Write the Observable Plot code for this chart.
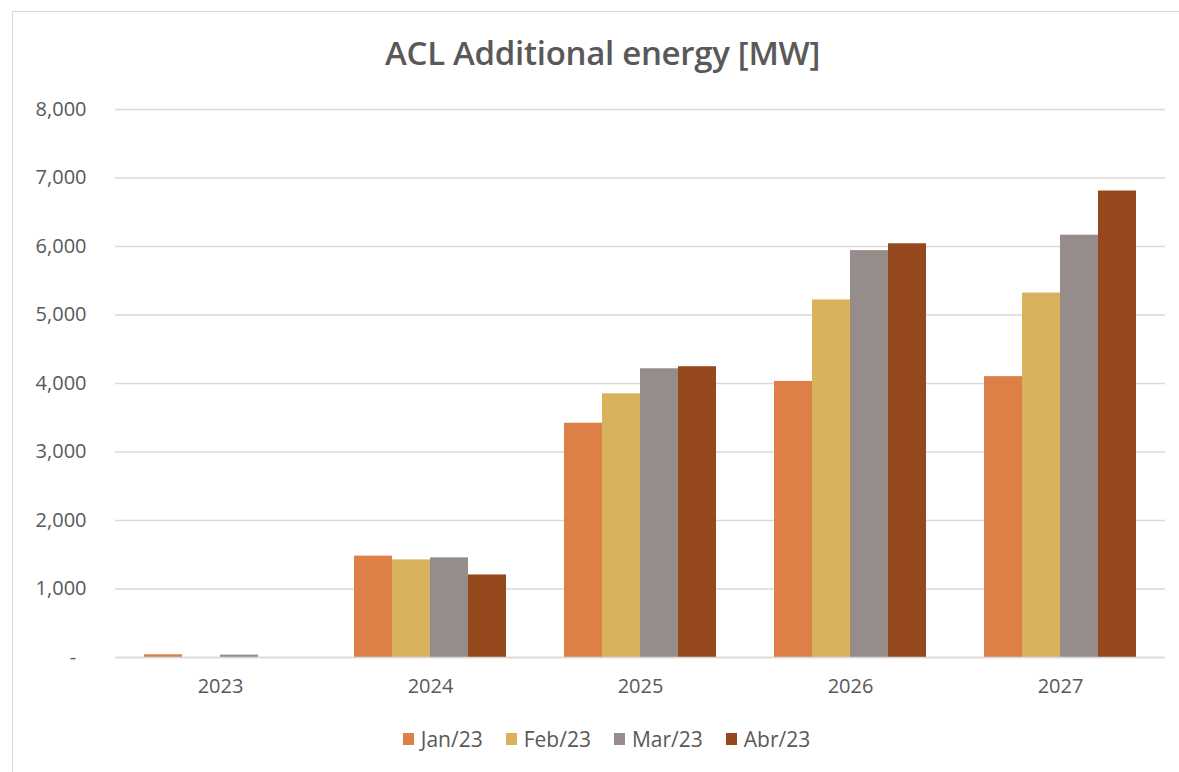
<!DOCTYPE html>
<html>
<head>
<meta charset="utf-8">
<script src="https://cdn.jsdelivr.net/npm/d3@7"></script>
<script src="https://cdn.jsdelivr.net/npm/@observablehq/plot@0.6"></script>
<style>
  html, body { margin: 0; padding: 0; background: #fff; }
  #wrap { position: relative; width: 1179px; height: 772px; overflow: hidden; font-family: "Open Sans", "Noto Sans", sans-serif; }
  #frame { position: absolute; left: 12px; top: 11px; width: 1200px; height: 800px; border: 1px solid #d9d9d9; box-sizing: border-box; }
  #title { position: absolute; left: 0; width: 1205px; top: 30px; text-align: center; font-size: 33px; line-height: 45px; font-weight: 600; color: #595959; letter-spacing: -0.3px; }
  #chart { position: absolute; left: 0; top: 0; }
  #legend { position: absolute; top: 724px; left: 0; width: 1213px; display: flex; justify-content: center; gap: 23px; font-size: 21px; line-height: 30px; color: #595959; }
  .item { display: flex; align-items: center; gap: 7px; }
  .sw { width: 11px; height: 12px; display: inline-block; }
</style>
</head>
<body>
<div id="wrap">
  <div id="frame"></div>
  <div id="title">ACL Additional energy [MW]</div>
  <div id="chart"></div>
  <div id="legend"></div>
</div>
<script>
const years = ["2023", "2024", "2025", "2026", "2027"];
const series = ["Jan/23", "Feb/23", "Mar/23", "Abr/23"];
const colors = ["#DD8047", "#D8B25C", "#968C8A", "#94481B"];
const jan = [40, 1480, 3420, 4030, 4100];
const feb = [0, 1425, 3850, 5220, 5320];
const mar = [35, 1455, 4215, 5940, 6165];
const abr = [0, 1205, 4245, 6040, 6810];
const yTicks = [0, 1000, 2000, 3000, 4000, 5000, 6000, 7000, 8000];

const valuesBySeries = [jan, feb, mar, abr];
const data = [];
years.forEach((yr, i) => {
  series.forEach((s, j) => {
    data.push({year: yr, series: s, value: valuesBySeries[j][i]});
  });
});

const fmt = d3.format(",");
const plot = Plot.plot({
  width: 1179,
  height: 710,
  marginTop: 109,
  marginBottom: 53,
  marginLeft: 115,
  marginRight: 14,
  style: {fontFamily: "'Open Sans', 'Noto Sans', sans-serif", fontSize: "20px", color: "#595959", background: "transparent"},
  fx: {domain: years, paddingInner: 0, paddingOuter: 0, label: null, tickSize: 0, tickPadding: 21, axis: "bottom"},
  x: {domain: series, paddingInner: 0, paddingOuter: 0.763, axis: null},
  y: {domain: [0, 8000], ticks: yTicks, tickSize: 0, tickPadding: 29, label: null,
      tickFormat: d => d === 0 ? "-\u00a0\u00a0" : fmt(d)},
  color: {domain: series, range: colors},
  marks: [
    Plot.gridY(yTicks, {stroke: "#d9d9d9", strokeOpacity: 1, strokeWidth: 1.3}),
    Plot.barY(data, {fx: "year", x: "series", y: "value", fill: "series"}),
    Plot.ruleY([0], {stroke: "#d9d9d9", strokeWidth: 1.3})
  ]
});
document.getElementById("chart").appendChild(plot);

const legend = document.getElementById("legend");
series.forEach((s, i) => {
  const it = document.createElement("div");
  it.className = "item";
  const sw = document.createElement("span");
  sw.className = "sw";
  sw.style.background = colors[i];
  const lb = document.createElement("span");
  lb.textContent = s;
  it.appendChild(sw);
  it.appendChild(lb);
  legend.appendChild(it);
});
</script>
</body>
</html>
